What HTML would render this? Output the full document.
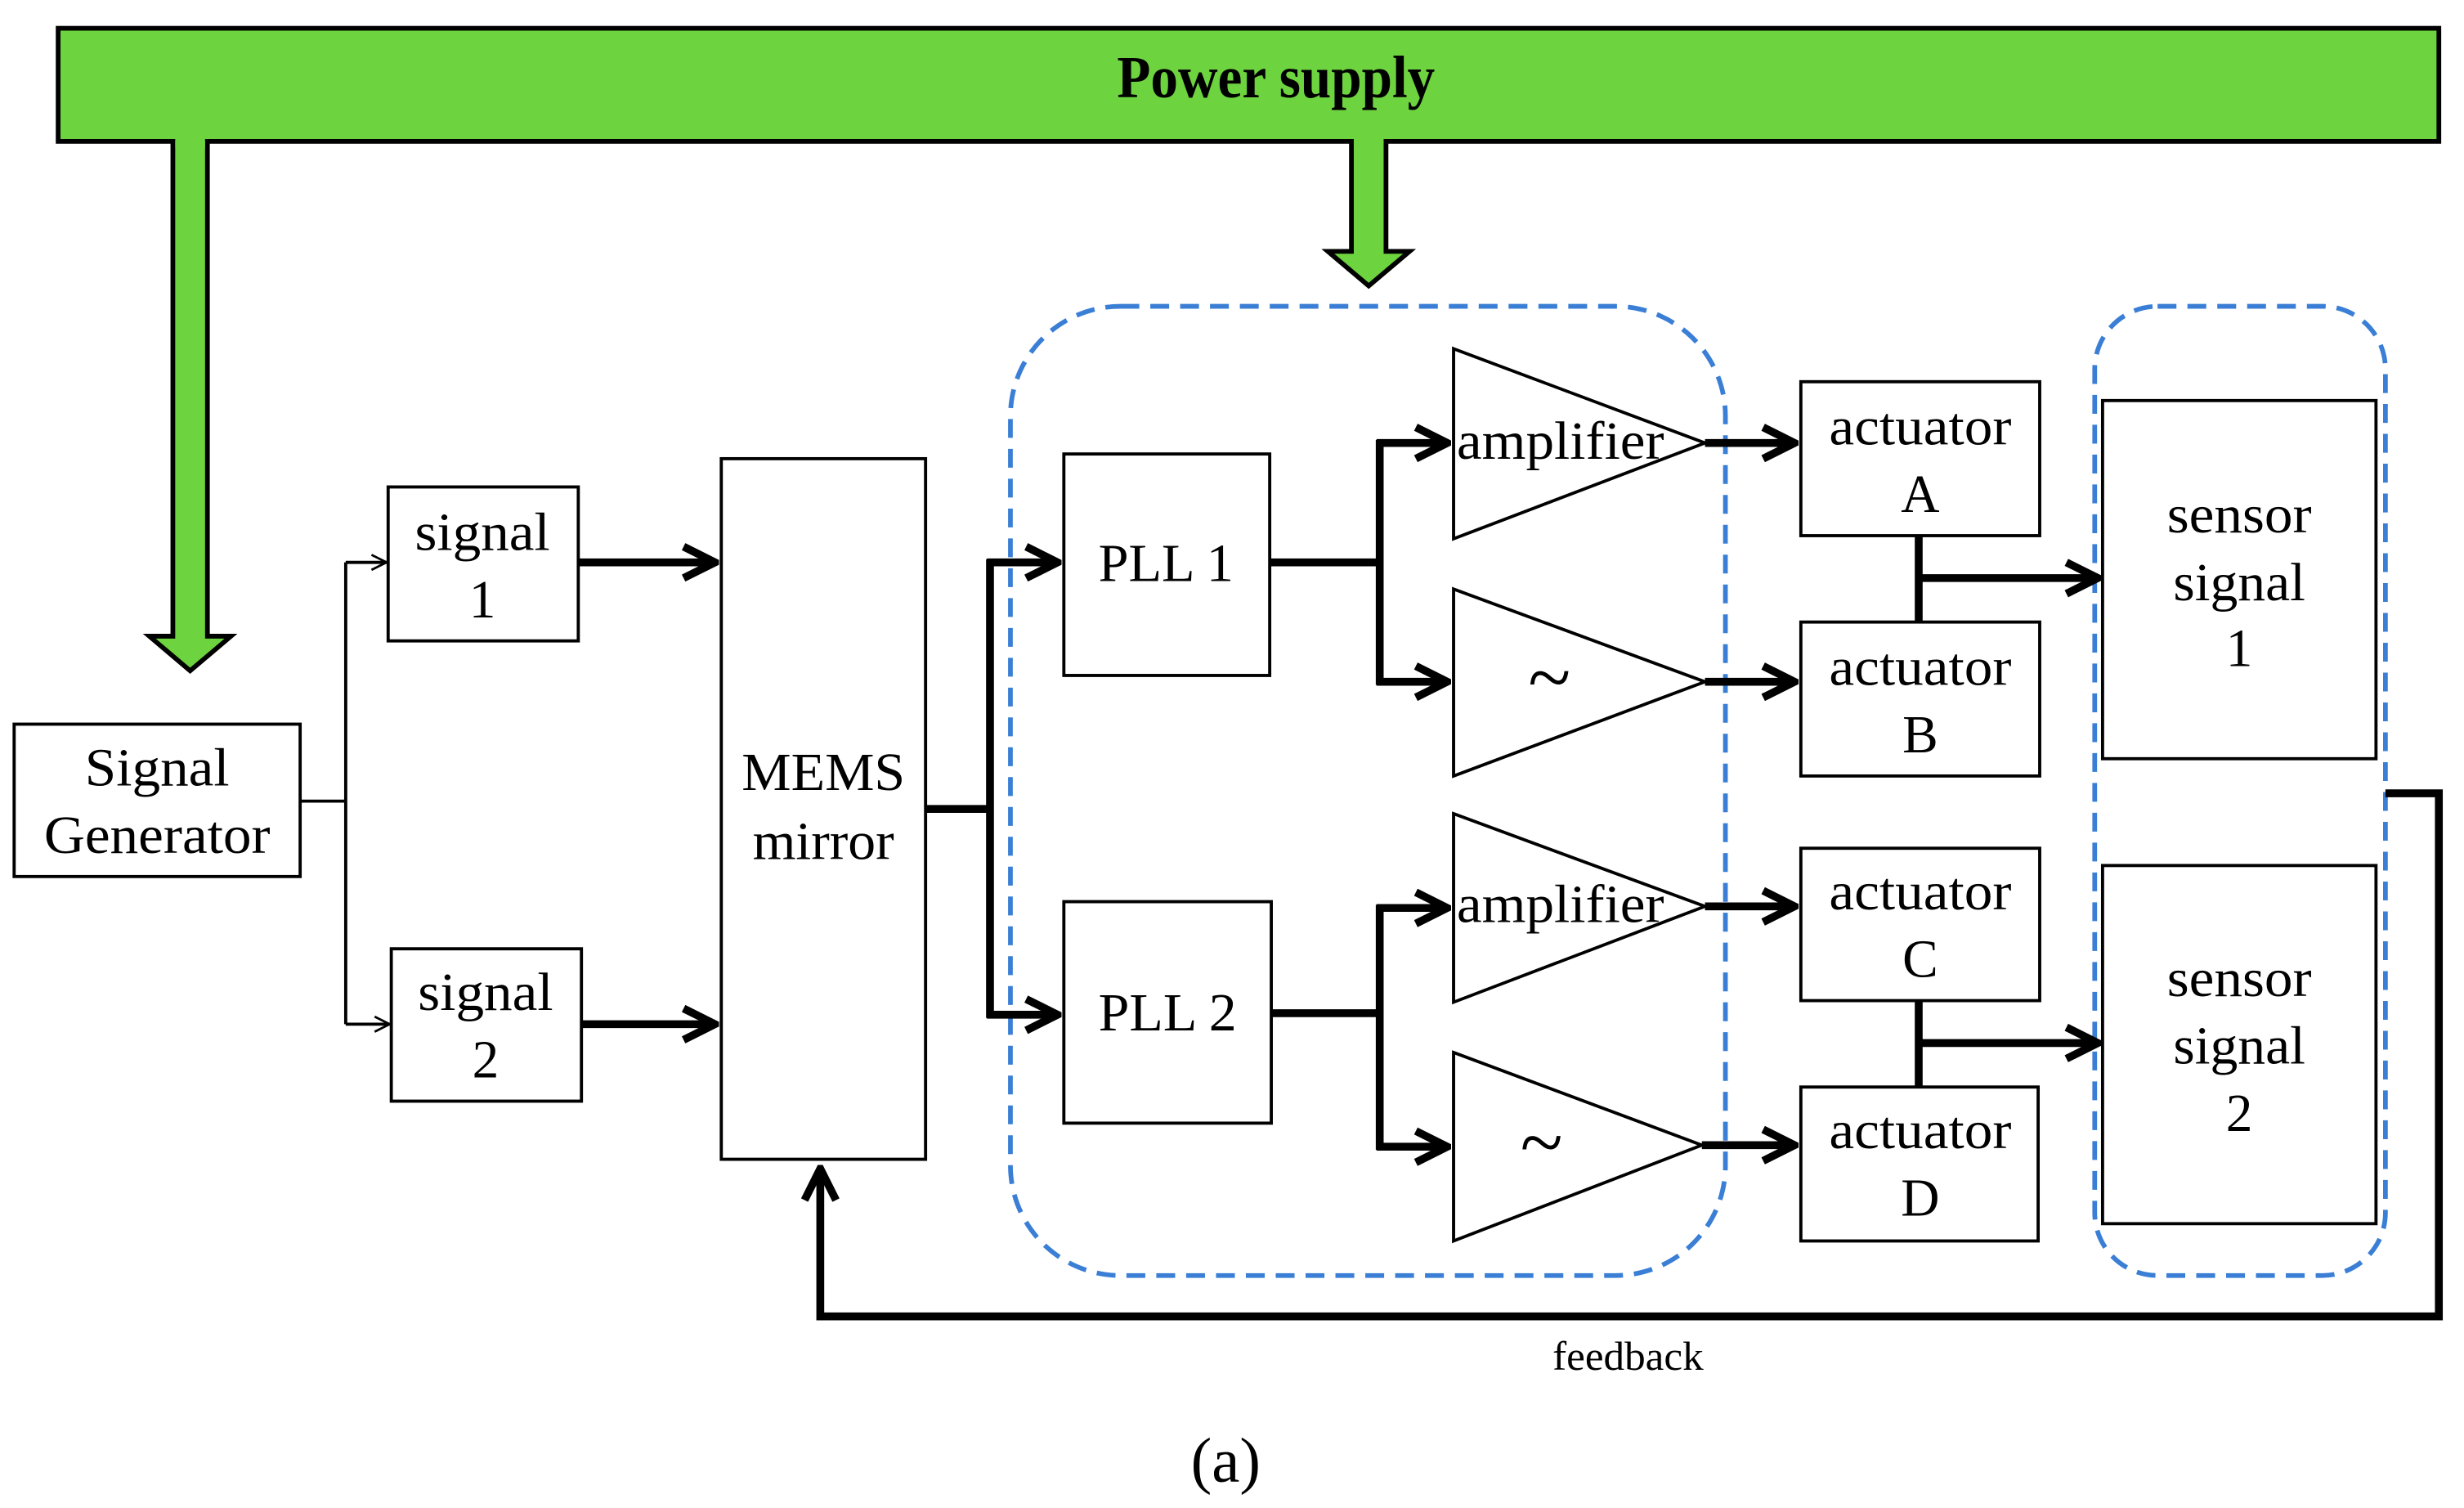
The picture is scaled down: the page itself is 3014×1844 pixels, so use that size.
<!DOCTYPE html>
<html><head><meta charset="utf-8"><style>html,body{margin:0;padding:0;background:#fff}svg{display:block}</style></head>
<body>
<svg width="3014" height="1844" viewBox="0 0 1568 960" preserveAspectRatio="none" xmlns="http://www.w3.org/2000/svg" font-family="'Liberation Serif',serif">
<defs>
<marker id="ah" viewBox="0 0 10 10" refX="9" refY="5" markerWidth="5" markerHeight="6" orient="auto" markerUnits="strokeWidth"><path d="M1,1 L9,5 L1,9" fill="none" stroke="#000" stroke-width="2"/></marker>
<marker id="at" viewBox="0 0 10 10" refX="9" refY="5" markerWidth="12" markerHeight="12" orient="auto" markerUnits="userSpaceOnUse"><path d="M1,1 L9,5 L1,9" fill="none" stroke="#000" stroke-width="1.2"/></marker>
</defs>
<rect x="37" y="18" width="1515" height="72" fill="#6dd33f" stroke="#000" stroke-width="3"/>
<text x="812" y="62" font-size="38" font-weight="bold" text-anchor="middle" transform="translate(812 0) scale(0.92 1) translate(-812 0)">Power supply</text>
<path d="M110,90 V405 H95 L121,427 L147,405 H132 V90" fill="#6dd33f" stroke="#000" stroke-width="3"/>
<path d="M860,90 V160 H845 L871,182 L897,160 H882 V90" fill="#6dd33f" stroke="#000" stroke-width="3"/>
<g fill="#6dd33f"><rect x="111.5" y="86" width="19" height="8"/><rect x="861.5" y="86" width="19" height="8"/></g>
<g fill="none" stroke="#3a7fd5" stroke-width="3" stroke-dasharray="12,7">
<rect x="643" y="195" width="455" height="617" rx="70"/>
<rect x="1333" y="195" width="185" height="617" rx="40"/>
</g>
<g fill="#fff" stroke="#000" stroke-width="2">
<rect x="9" y="461" width="182" height="97"/>
<rect x="247" y="310" width="121" height="98"/>
<rect x="249" y="604" width="121" height="97"/>
<rect x="459" y="292" width="130" height="446"/>
<rect x="677" y="289" width="131" height="141"/>
<rect x="677" y="574" width="132" height="141"/>
<rect x="1146" y="243" width="152" height="98"/>
<rect x="1146" y="396" width="152" height="98"/>
<rect x="1146" y="540" width="152" height="97"/>
<rect x="1146" y="692" width="151" height="98"/>
<rect x="1338" y="255" width="174" height="228"/>
<rect x="1338" y="551" width="174" height="228"/>
<polygon points="925,222 925,343 1085,282"/>
<polygon points="925,375 925,494 1085,434"/>
<polygon points="925,518 925,638 1085,577"/>
<polygon points="925,670 925,790 1083,729"/>
</g>
<g fill="none" stroke="#000" stroke-width="2">
<path d="M191,510 H220 M220,358 V652"/>
<path d="M220,358 H246" marker-end="url(#at)"/>
<path d="M220,652 H248" marker-end="url(#at)"/>
</g>
<g fill="none" stroke="#000" stroke-width="5">
<path d="M368,358 H455" marker-end="url(#ah)"/>
<path d="M370,652 H455" marker-end="url(#ah)"/>
<path d="M589,515 H630 M630,356 V648"/>
<path d="M628,358 H673" marker-end="url(#ah)"/>
<path d="M628,646 H673" marker-end="url(#ah)"/>
<path d="M808,358 H878 M878,280 V436"/>
<path d="M876,282 H921" marker-end="url(#ah)"/>
<path d="M876,434 H921" marker-end="url(#ah)"/>
<path d="M809,645 H878 M878,576 V732"/>
<path d="M876,578 H921" marker-end="url(#ah)"/>
<path d="M876,730 H921" marker-end="url(#ah)"/>
<path d="M1085,282 H1142" marker-end="url(#ah)"/>
<path d="M1085,434 H1142" marker-end="url(#ah)"/>
<path d="M1085,577 H1142" marker-end="url(#ah)"/>
<path d="M1083,729 H1142" marker-end="url(#ah)"/>
<path d="M1221,341 V396 M1221,368 H1335" marker-end="url(#ah)"/>
<path d="M1221,637 V692 M1221,664 H1335" marker-end="url(#ah)"/>
<path d="M1518,505 H1552 V838 H522 V744" marker-end="url(#ah)"/>
</g>
<g font-size="34" text-anchor="middle" fill="#000">
<text x="100" y="500" textLength="92" lengthAdjust="spacingAndGlyphs">Signal</text><text x="100" y="543" textLength="144" lengthAdjust="spacingAndGlyphs">Generator</text>
<text x="307" y="350" textLength="86" lengthAdjust="spacingAndGlyphs">signal</text><text x="307" y="393">1</text>
<text x="309" y="643" textLength="86" lengthAdjust="spacingAndGlyphs">signal</text><text x="309" y="686">2</text>
<text x="524" y="503" textLength="104" lengthAdjust="spacingAndGlyphs">MEMS</text><text x="524" y="547" textLength="90" lengthAdjust="spacingAndGlyphs">mirror</text>
<text x="742" y="370" textLength="86" lengthAdjust="spacingAndGlyphs">PLL 1</text><text x="743" y="656" textLength="88" lengthAdjust="spacingAndGlyphs">PLL 2</text>
<text x="993" y="292" textLength="132" lengthAdjust="spacingAndGlyphs">amplifier</text><text x="993" y="587" textLength="132" lengthAdjust="spacingAndGlyphs">amplifier</text>
<text x="986" y="448" font-size="50">~</text><text x="981" y="744" font-size="50">~</text>
<text x="1222" y="283" textLength="116" lengthAdjust="spacingAndGlyphs">actuator</text><text x="1222" y="326">A</text>
<text x="1222" y="436" textLength="116" lengthAdjust="spacingAndGlyphs">actuator</text><text x="1222" y="479">B</text>
<text x="1222" y="579" textLength="116" lengthAdjust="spacingAndGlyphs">actuator</text><text x="1222" y="622">C</text>
<text x="1222" y="731" textLength="116" lengthAdjust="spacingAndGlyphs">actuator</text><text x="1222" y="774">D</text>
<text x="1425" y="339" textLength="92" lengthAdjust="spacingAndGlyphs">sensor</text><text x="1425" y="382" textLength="84" lengthAdjust="spacingAndGlyphs">signal</text><text x="1425" y="424">1</text>
<text x="1425" y="634" textLength="92" lengthAdjust="spacingAndGlyphs">sensor</text><text x="1425" y="677" textLength="84" lengthAdjust="spacingAndGlyphs">signal</text><text x="1425" y="720">2</text>
<text x="1036" y="872" font-size="26" textLength="96" lengthAdjust="spacingAndGlyphs">feedback</text>
<text x="780" y="943" font-size="40">(a)</text>
</g>
</svg>
</body></html>
